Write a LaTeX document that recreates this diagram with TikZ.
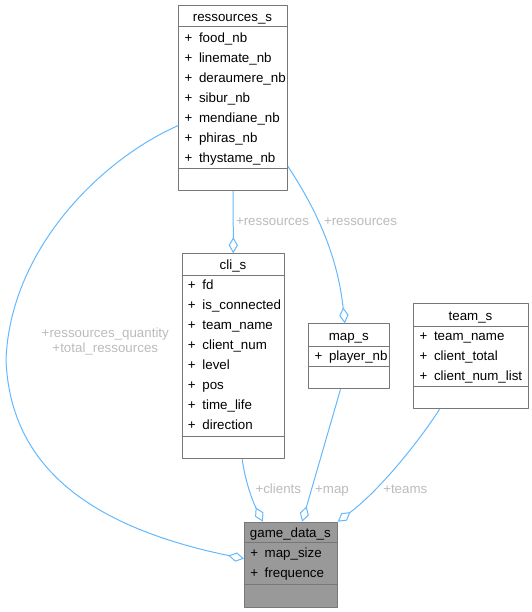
\documentclass[tikz,border=0pt]{standalone}
\usepackage{fontspec}
\setmainfont{Liberation Sans}
\usetikzlibrary{arrows.meta,calc}
\definecolor{boxline}{HTML}{777777}
\definecolor{rootfill}{HTML}{999999}
\definecolor{edgeblue}{HTML}{63B8FF}
\definecolor{labelgray}{HTML}{BBBBBB}

\begin{document}
\begin{tikzpicture}[x=0.75pt,y=-0.75pt,line join=round,
  classbox/.style={draw=boxline,line width=0.75pt,anchor=north west,inner sep=0pt},
  sep/.style={boxline,line width=0.75pt},
  title/.style={anchor=base,inner sep=0pt,font=\fontsize{10}{12}\selectfont},
  field/.style={anchor=base west,inner sep=0pt,font=\fontsize{10}{12}\selectfont},
  member/.style={edgeblue,line width=0.75pt,-{Diamond[open,length=12pt,width=7pt]}},
  role/.style={labelgray,anchor=base,inner sep=0pt,font=\fontsize{10}{10.8}\selectfont}]
\useasboundingbox (0,0) rectangle (532,612);
% ressources_s
\node[classbox,minimum width=108.4*0.75pt,minimum height=185*0.75pt] (ressources) at (178.3,5) {};
\draw[sep] (178.3,26.7) -- (286.7,26.7);
\draw[sep] (178.3,168.3) -- (286.7,168.3);
\node[title] (ressourcestitle) at (232.5,21.7) {ressources\_s};
\node[field] (food) at (184.3,42) {+\hspace{5pt}food\_nb};
\node[field] (linemate) at (184.3,62) {+\hspace{5pt}linemate\_nb};
\node[field] (deraumere) at (184.3,82) {+\hspace{5pt}deraumere\_nb};
\node[field] (sibur) at (184.3,102) {+\hspace{5pt}sibur\_nb};
\node[field] (mendiane) at (184.3,122) {+\hspace{5pt}mendiane\_nb};
\node[field] (phiras) at (184.3,142) {+\hspace{5pt}phiras\_nb};
\node[field] (thystame) at (184.3,162) {+\hspace{5pt}thystame\_nb};
% cli_s
\node[classbox,minimum width=102.6*0.75pt,minimum height=205*0.75pt] (cli) at (181.7,253.3) {};
\draw[sep] (181.7,275) -- (284.3,275);
\draw[sep] (181.7,436) -- (284.3,436);
\node[title] (clititle) at (233,269.5) {cli\_s};
\node[field] (fd) at (187.7,289) {+\hspace{5pt}fd};
\node[field] (isconnected) at (187.7,309) {+\hspace{5pt}is\_connected};
\node[field] (cliteamname) at (187.7,329) {+\hspace{5pt}team\_name};
\node[field] (clientnum) at (187.7,349) {+\hspace{5pt}client\_num};
\node[field] (level) at (187.7,369) {+\hspace{5pt}level};
\node[field] (pos) at (187.7,389) {+\hspace{5pt}pos};
\node[field] (timelife) at (187.7,409) {+\hspace{5pt}time\_life};
\node[field] (direction) at (187.7,429) {+\hspace{5pt}direction};
% map_s
\node[classbox,minimum width=81*0.75pt,minimum height=65*0.75pt] (map) at (308.3,323.3) {};
\draw[sep] (308.3,346.7) -- (389.3,346.7);
\draw[sep] (308.3,366.7) -- (389.3,366.7);
\node[title] (maptitle) at (348.8,340.5) {map\_s};
\node[field] (playernb) at (314.3,360.5) {+\hspace{5pt}player\_nb};
% team_s
\node[classbox,minimum width=114.4*0.75pt,minimum height=105*0.75pt] (team) at (413.3,303.3) {};
\draw[sep] (413.3,326) -- (527.7,326);
\draw[sep] (413.3,386.7) -- (527.7,386.7);
\node[title] (teamtitle) at (470.5,320.5) {team\_s};
\node[field] (teamname) at (419.3,340) {+\hspace{5pt}team\_name};
\node[field] (clienttotal) at (419.3,360) {+\hspace{5pt}client\_total};
\node[field] (clientnumlist) at (419.3,380) {+\hspace{5pt}client\_num\_list};
% game_data_s
\node[classbox,fill=rootfill,minimum width=92.7*0.75pt,minimum height=85*0.75pt] (game) at (244,521.7) {};
\draw[sep] (244,542.7) -- (336.7,542.7);
\draw[sep] (244,584.3) -- (336.7,584.3);
\node[title] (gametitle) at (290.35,537.3) {game\_data\_s};
\node[field] (mapsize) at (250,557) {+\hspace{5pt}map\_size};
\node[field] (frequence) at (250,577) {+\hspace{5pt}frequence};
% connectors
\draw[member] (ressources) -- (cli);
\draw[member] ($(ressources.south east)+(0,-25)$) .. controls (320,215) and (338,260) .. ($(map.north)+(-4.5,0)$);
\draw[member] ($(ressources.west)+(0,27.5)$) .. controls (100,160) and (10,250) .. (6,360) .. controls (10,460) and (80,525) .. ($(game.west)+(0,-6)$);
\draw[member] ($(cli.south)+(8.7,0)$) .. controls (245,480) and (252,500) .. ($(game.north)+(-28,0)$);
\draw[member] ($(map.south)+(-8.8,0)$) -- ($(game.north)+(11.3,0)$);
\draw[member] ($(team.south)+(-31.5,0)$) .. controls (420,440) and (380,490) .. (game.north east);
% roles
\node[role] (rescli) at (272.5,225) {+ressources};
\node[role] (resmap) at (360.5,225) {+ressources};
\node[role,align=center] (resgame) at (105.3,352.3) {+ressources\_quantity\\+total\_ressources};
\node[role] (clients) at (278.3,493.3) {+clients};
\node[role] (mapof) at (332,493.3) {+map};
\node[role] (teams) at (405.3,493.3) {+teams};
\end{tikzpicture}
\end{document}
